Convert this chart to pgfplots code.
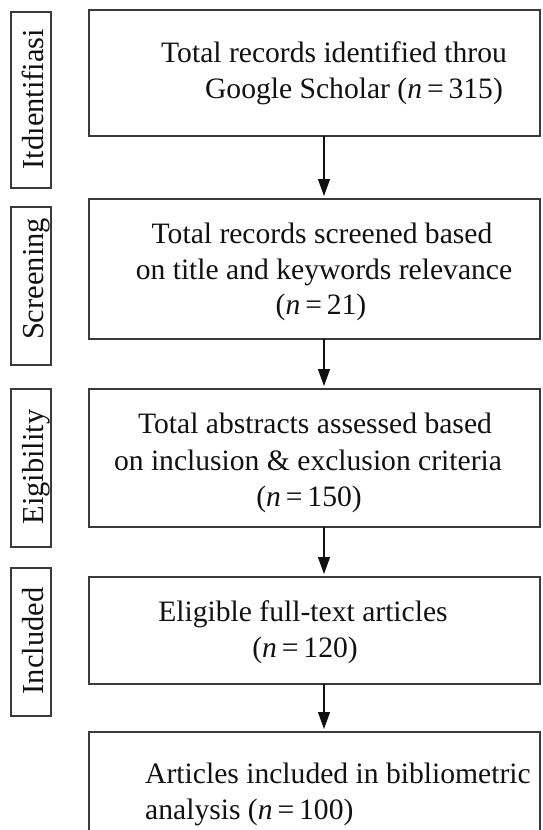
\documentclass[border=0pt]{standalone}
\usepackage{pgfplots}
\pgfplotsset{compat=1.18}
\usepackage{fontspec}
\setmainfont{Liberation Serif}
\usetikzlibrary{arrows.meta}
\definecolor{ln}{HTML}{3A3A3A}
\definecolor{tx}{HTML}{111111}
\begin{document}
\begin{tikzpicture}
\begin{axis}[width=542pt, height=830pt, scale only axis,
  xmin=0, xmax=542, ymin=0, ymax=830, y dir=reverse,
  axis line style={draw=none}, xtick=\empty, ytick=\empty,
  clip bounding box=upper bound]
\path (axis cs:0,0) rectangle (axis cs:542,830);
% main boxes
\draw[ln, line width=1.8pt] (axis cs:89,10) rectangle (axis cs:540,136);
\draw[ln, line width=1.8pt] (axis cs:89,199) rectangle (axis cs:540,339);
\draw[ln, line width=1.8pt] (axis cs:89,389) rectangle (axis cs:540,527);
\draw[ln, line width=1.8pt] (axis cs:89,577) rectangle (axis cs:540,684);
\draw[ln, line width=1.8pt] (axis cs:89,732) rectangle (axis cs:540,850);
% stage boxes
\draw[ln, line width=1.6pt] (axis cs:11,12) rectangle (axis cs:51,188);
\draw[ln, line width=1.6pt] (axis cs:11,207) rectangle (axis cs:51,365);
\draw[ln, line width=1.6pt] (axis cs:11,389) rectangle (axis cs:51,547);
\draw[ln, line width=1.6pt] (axis cs:11,568) rectangle (axis cs:51,716);
% arrows
\draw[tx, line width=1.3pt, -{Triangle[length=17pt,width=12pt]}] (axis cs:324,136) -- (axis cs:324,196);
\draw[tx, line width=1.3pt, -{Triangle[length=17pt,width=12pt]}] (axis cs:324,339) -- (axis cs:324,386);
\draw[tx, line width=1.3pt, -{Triangle[length=17pt,width=12pt]}] (axis cs:324,527) -- (axis cs:324,574);
\draw[tx, line width=1.3pt, -{Triangle[length=17pt,width=12pt]}] (axis cs:324,684) -- (axis cs:324,729);
% stage labels
\begin{scope}[every node/.style={tx, rotate=90, anchor=base, inner sep=0pt, font=\fontsize{30.5}{36}\selectfont}]
\node at (axis cs:43,99) {Itd\i entifiasi};
\node at (axis cs:43,279) {Screening};
\node at (axis cs:43,467) {Eigibility};
\node at (axis cs:43,641) {Included};
\end{scope}
% box texts
\begin{scope}[every node/.style={tx, anchor=base, inner sep=0pt, font=\fontsize{29.6}{36}\selectfont}]
\node at (axis cs:334,62) {Total records identified throu};
\node at (axis cs:354,98) {Google Scholar (\textit{n}\,=\,315)};
\node at (axis cs:322,243) {Total records screened based};
\node at (axis cs:324,279) {on title and keywords relevance};
\node at (axis cs:321,314) {(\textit{n}\,=\,21)};
\node at (axis cs:315,433) {Total abstracts assessed based};
\node at (axis cs:308,470) {on inclusion \& exclusion criteria};
\node at (axis cs:309,506) {(\textit{n}\,=\,150)};
\node at (axis cs:303,621) {Eligible full-text articles};
\node at (axis cs:305,657) {(\textit{n}\,=\,120)};
\node[anchor=base west] at (axis cs:145,783) {Articles included in bibliometric};
\node[anchor=base west] at (axis cs:145,819) {analysis (\textit{n}\,=\,100)};
\end{scope}
\end{axis}
\end{tikzpicture}
\end{document}
